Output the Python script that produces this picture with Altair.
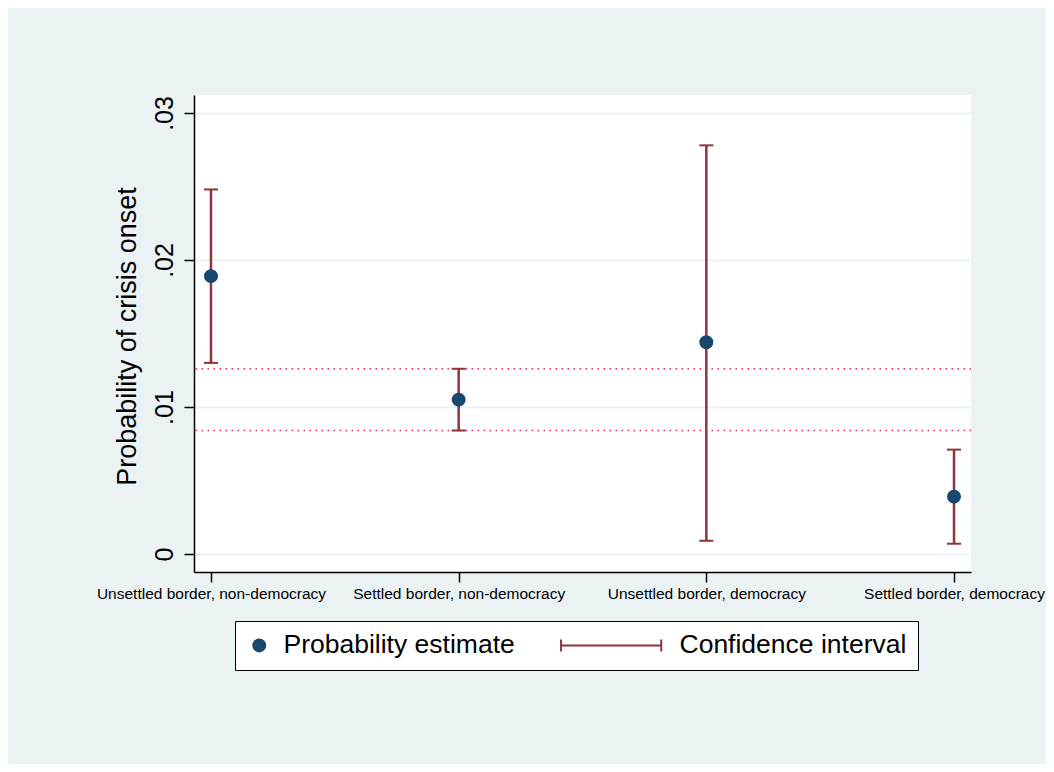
import altair as alt
import pandas as pd

# ---------------- data ----------------
categories = ["Unsettled border, non-democracy", "Settled border, non-democracy",
              "Unsettled border, democracy", "Settled border, democracy"]
estimates = [0.0189, 0.0105, 0.0144, 0.0039]
ci_low = [0.0130, 0.0084, 0.0009, 0.0007]
ci_high = [0.0248, 0.0126, 0.0278, 0.0071]
ref_lines = [0.0126, 0.0084]
y_ticks = [0, 0.01, 0.02, 0.03]
series = ["Probability estimate", "Confidence interval"]

# ---------------- style ----------------
FONT = "Liberation Sans"
BG = "#EAF2F3"
NAVY = "#1A476F"
MAROON = "#90353B"
REFCOL = "#D8305F"
CI_PATH = "M-15.7,-1L-15.7,1M-15.7,0L1,0M1,-1L1,1"

df = pd.DataFrame({"category": categories, "est": estimates,
                   "lo": ci_low, "hi": ci_high,
                   "series": [series[0]] * len(categories)})
ref_df = pd.DataFrame({"ref": ref_lines})

xscale = alt.Scale(type="point", domain=categories, padding=0.0686)
yscale = alt.Scale(domain=[-0.001224, 0.031224], nice=False, zero=False)

x_axis = alt.Axis(title=None, labelAngle=0, labelFontSize=15.5, labelPadding=4,
                  labelLimit=400, labelOverlap=False,
                  tickSize=10, grid=False, labelColor="black")
y_axis = alt.Axis(values=y_ticks, title="Probability of crisis onset",
                  labelExpr="datum.value == 0 ? '0' : substring(format(datum.value, '.2f'), 1)",
                  labelAngle=270, labelAlign="center", labelBaseline="alphabetic",
                  labelFontSize=25, labelPadding=12, tickSize=10,
                  titleFontSize=27, titleFontWeight="normal", titleAngle=270,
                  titleAlign="center", titleBaseline="alphabetic",
                  titleX=-59, titleY=241,
                  grid=True, gridColor=BG, gridWidth=2, labelColor="black",
                  titleColor="black")

X = alt.X("category:N", scale=xscale, axis=x_axis, sort=categories)

ref = alt.Chart(ref_df).mark_rule(color=REFCOL, strokeWidth=1.5,
                                  strokeDash=[1.5, 4.5]).encode(
    y=alt.Y("ref:Q", scale=yscale, axis=y_axis)
)

bars = alt.Chart(df).mark_rule(color=MAROON, strokeWidth=2.5).encode(
    x=X,
    y=alt.Y("lo:Q", scale=yscale, axis=y_axis),
    y2="hi:Q",
)

caps = alt.Chart(df).transform_fold(["lo", "hi"], as_=["end", "val"]).mark_tick(
    color=MAROON, orient="horizontal", size=14, thickness=2, opacity=1
).encode(
    x=X,
    y=alt.Y("val:Q", scale=yscale, axis=y_axis),
)

leg = alt.Legend(title=None, orient="none", legendX=41, legendY=526,
                 direction="horizontal", labelFontSize=26.5, labelOffset=11,
                 labelColor="black", symbolSize=144, symbolStrokeWidth=2,
                 columnPadding=42, padding=11, fillColor="white",
                 strokeColor="black", labelLimit=400,
                 symbolOpacity=1)

points = alt.Chart(df).mark_point(filled=True, size=144, strokeWidth=2,
                                  opacity=1).encode(
    x=X,
    y=alt.Y("est:Q", scale=yscale, axis=y_axis),
    fill=alt.Fill("series:N", scale=alt.Scale(domain=series, range=[NAVY, MAROON]), legend=leg),
    stroke=alt.Stroke("series:N", scale=alt.Scale(domain=series, range=[NAVY, MAROON]), legend=leg),
    shape=alt.Shape("series:N", scale=alt.Scale(domain=series, range=["circle", CI_PATH]), legend=leg),
)

chart = alt.layer(ref, bars, caps, points).properties(
    width=777, height=477,
    padding={"left": 186, "top": 87, "right": 75, "bottom": 192},
    autosize=alt.AutoSizeParams(type="none"),
    background=BG,
).configure(font=FONT).configure_view(fill="white", strokeWidth=0).configure_axis(
    domainColor="black", domainWidth=1.5, tickColor="black", tickWidth=1.5
)

chart.save("out.html", embed_options={"renderer": "svg", "actions": False})
